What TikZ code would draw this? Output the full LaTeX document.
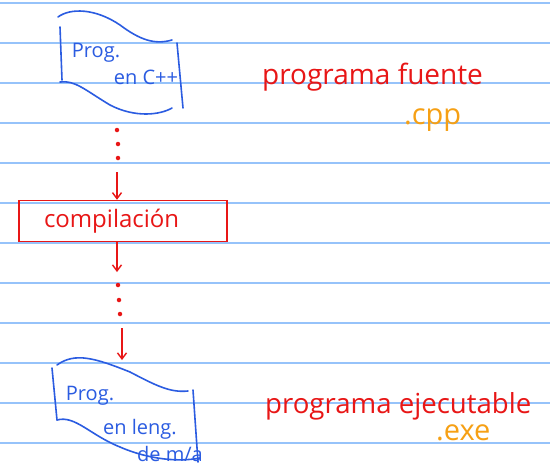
\documentclass[tikz,border=0pt]{standalone}
\usepackage{fontspec}
\setmainfont{Open Sans}
\usetikzlibrary{arrows.meta}

\definecolor{penblue}{RGB}{43,92,225}
\definecolor{penred}{RGB}{232,22,22}
\definecolor{penorange}{RGB}{246,160,20}
\definecolor{rule}{RGB}{150,195,250}

\begin{document}
\begin{tikzpicture}[
        x=1pt, y=-1pt,
        ruled/.style={draw=rule, line width=1.1pt},
        docline/.style={draw=penblue, line width=1.6pt, line cap=round},
        doctext/.style={text=penblue, font=\fontsize{20}{20}\selectfont, inner sep=0pt},
        redtext/.style={text=penred, font=\fontsize{28}{28}\selectfont, inner sep=0pt},
        ext/.style={text=penorange, font=\fontsize{29}{29}\selectfont, inner sep=0pt},
        stepbox/.style={draw=penred, line width=1.5pt, minimum width=208pt, minimum height=41pt,
                        inner xsep=25pt, text width=158pt, align=left,
                        text=penred, font=\fontsize{24}{24}\selectfont},
        dot/.style={fill=penred, circle, inner sep=0pt, minimum size=4.5pt},
        arr/.style={draw=penred, line width=1.4pt, -{Straight Barb[length=6pt,width=9pt]}}
    ]
    % paper
    \useasboundingbox (0,0) rectangle (550,469);
    \fill[white] (0,0) rectangle (550,469);
    \foreach \y in {3,43,...,443}
        \draw[ruled] (0,\y) -- (550,\y);

    % source program sheet
    \draw[docline] (58,17) .. controls (70,8) and (95,8) .. (120,25)
        .. controls (140,40) and (155,45) .. (172,40);
    \draw[docline] (60,27) -- (62,80);
    \draw[docline] (177,43) -- (183,108);
    \draw[docline] (60,82) .. controls (75,80) and (85,90) .. (110,105)
        .. controls (135,118) and (160,115) .. (172,108);
    \node[doctext] (src1) at (96,53) {Prog.};
    \node[doctext] (src2) at (146,77) {en C++};

    % compiler step
    \node[stepbox] (comp) at (123,221) {compilación};

    % executable sheet
    \draw[docline] (57,365) .. controls (75,352) and (95,358) .. (130,372)
        .. controls (155,385) and (170,393) .. (188,391);
    \draw[docline] (52,368) -- (57,420);
    \draw[docline] (193,390) -- (198,462);
    \draw[docline] (57,420) .. controls (75,415) and (90,435) .. (120,447)
        .. controls (150,460) and (180,462) .. (200,458);
    \node[doctext] (exe1) at (90,396) {Prog.};
    \node[doctext] (exe2) at (140,429) {en leng.};
    \node[doctext] (exe3) at (170,454) {de m/a};

    % connectors
    \node[dot] (p1) at (117,130) {};
    \node[dot] (p2) at (118,144) {};
    \node[dot] (p3) at (118,158) {};
    \coordinate (a1) at (117,172);
    \draw[arr] (a1) -- (comp.north -| a1);
    \coordinate (a2) at (117,272);
    \draw[arr] (comp.south -| a2) -- (a2);
    \node[dot] (q1) at (118,285) {};
    \node[dot] (q2) at (119,300) {};
    \node[dot] (q3) at (120,314) {};
    \coordinate (a3) at (122,328);
    \coordinate (a4) at (122,360);
    \draw[arr] (a3) -- (a4);

    % labels
    \node[redtext, anchor=base west] (fuente) at (262,84) {programa fuente};
    \node[ext, anchor=base west] (cpp) at (404,124) {.cpp};
    \node[redtext, anchor=base west, font=\fontsize{27.6}{28}\selectfont] (ejec) at (265,413) {programa ejecutable};
    \node[ext, anchor=base west] (exe) at (436,440) {.exe};
\end{tikzpicture}
\end{document}
